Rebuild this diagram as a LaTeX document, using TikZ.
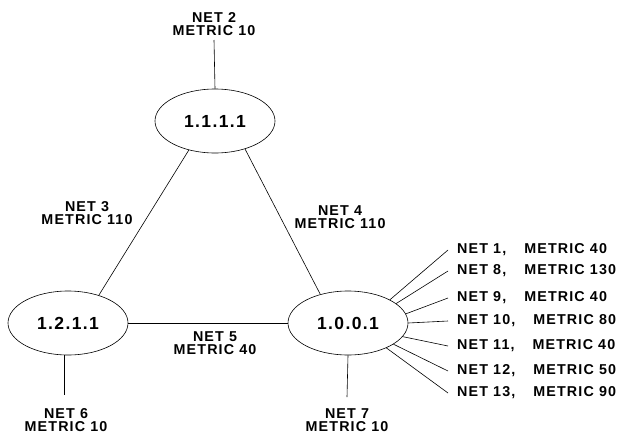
\documentclass[tikz,border=0pt]{standalone}
\usepackage{fontspec}
\setmainfont{Liberation Sans}[LetterSpace=8]
\usetikzlibrary{shapes.geometric}
\tikzset{router/.style = {shape = ellipse, draw, line width = 0.6pt, minimum width = 120pt, minimum height = 64pt, inner sep = 0pt, font = \fontsize{17.5}{20}\selectfont\bfseries}}
\tikzset{netlabel/.style = {align = center, inner sep = 0pt, font = \fontsize{14.3}{13.5}\selectfont\bfseries}}
\tikzset{fanlabel/.style = {anchor = west, inner xsep = 9pt, inner ysep = 0pt, font = \fontsize{14.3}{14}\selectfont\bfseries}}
\tikzset{link/.style = {-, line width = 0.6pt}}

\begin{document}
\begin{tikzpicture}[x = 1pt, y = -1pt]
			\useasboundingbox (0, 0) rectangle (621, 437);

			\node[router] (r1111) at (215, 121) {1.1.1.1};
			\node[router] (r1211) at (68, 323) {1.2.1.1};
			\node[router] (r1001) at (348, 323) {1.0.0.1};

			\node[netlabel] (net2) at (214, 24) {NET 2\\METRIC 10};
			\node[netlabel] (net3) at (87, 213) {NET 3\\METRIC 110};
			\node[netlabel] (net4) at (340, 217) {NET 4\\METRIC 110};
			\node[netlabel] (net5) at (215, 343) {NET 5\\METRIC 40};
			\node[netlabel] (net6) at (66, 420) {NET 6\\METRIC 10};
			\node[netlabel] (net7) at (347, 420) {NET 7\\METRIC 10};

			\coordinate (s2) at (214, 40);
			\coordinate (s6) at (64, 395);
			\coordinate (s7) at (347, 397);

			\node[fanlabel] (f1) at (448, 250) {NET 1,\hspace{18pt}METRIC 40};
			\node[fanlabel] (f8) at (448, 271) {NET 8,\hspace{18pt}METRIC 130};
			\node[fanlabel] (f9) at (448, 298) {NET 9,\hspace{18pt}METRIC 40};
			\node[fanlabel] (f10) at (448, 321) {NET 10,\hspace{18pt}METRIC 80};
			\node[fanlabel] (f11) at (448, 346) {NET 11,\hspace{18pt}METRIC 40};
			\node[fanlabel] (f12) at (448, 371) {NET 12,\hspace{18pt}METRIC 50};
			\node[fanlabel] (f13) at (448, 393) {NET 13,\hspace{18pt}METRIC 90};

			\draw[link] (r1111.north) to (s2);
			\draw[link] (r1111.228) to (r1211.42);
			\draw[link] (r1111.317) to (r1001.134);
			\draw[link] (r1211.east) to (r1001.west);
			\draw[link] (r1211.south -| s6) to (s6);
			\draw[link] (r1001.south) to (s7);

			\draw[link] (r1001.29) to (f1.west);
			\draw[link] (r1001.22) to (f8.west);
			\draw[link] (r1001.9) to (f9.west);
			\draw[link] (r1001.0) to (f10.west);
			\draw[link] (r1001.-14) to (f11.west);
			\draw[link] (r1001.-25) to (f12.west);
			\draw[link] (r1001.-33) to (f13.west);
		\end{tikzpicture}
\end{document}
